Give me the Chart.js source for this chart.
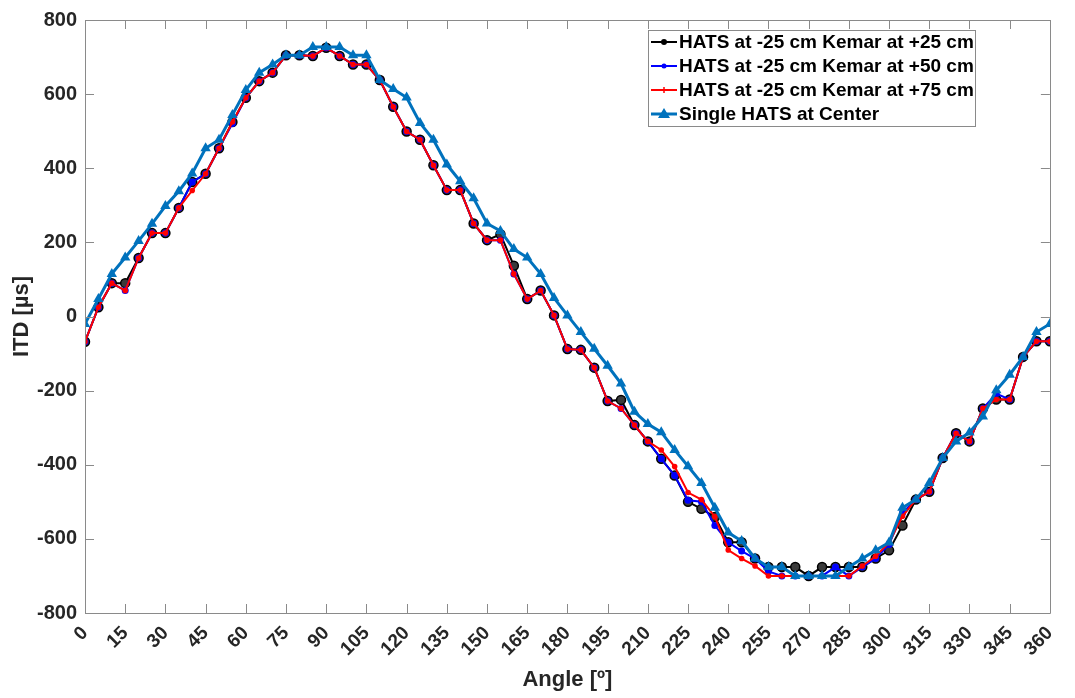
<!DOCTYPE html>
<html><head><meta charset="utf-8">
<script src="https://cdn.jsdelivr.net/npm/chart.js@4.4.1/dist/chart.umd.min.js"></script>
<style>html,body{margin:0;padding:0;background:#fff;overflow:hidden}canvas{display:block}</style>
</head><body>
<canvas id="c" width="1075" height="698"></canvas>
<script>
const angles = [0,5,10,15,20,25,30,35,40,45,50,55,60,65,70,75,80,85,90,95,100,105,110,115,120,125,130,135,140,145,150,155,160,165,170,175,180,185,190,195,200,205,210,215,220,225,230,235,240,245,250,255,260,265,270,275,280,285,290,295,300,305,310,315,320,325,330,335,340,345,350,355,360];
const xTicks = [0,15,30,45,60,75,90,105,120,135,150,165,180,195,210,225,240,255,270,285,300,315,330,345,360];
const yTicks = [-800,-600,-400,-200,0,200,400,600,800];

const hatsKemar25 = [-68,25,90,90,158,225,225,293,363,385,454,525,590,635,658,705,705,703,725,703,680,680,638,566,499,477,408,341,341,251,206,222,137,47,70,3,-88,-90,-138,-228,-225,-293,-337,-384,-429,-500,-519,-541,-609,-609,-653,-676,-676,-676,-700,-676,-676,-676,-676,-653,-631,-564,-494,-473,-382,-315,-337,-248,-224,-224,-109,-67,-67];
const hatsKemar50 = [-68,25,90,70,158,225,225,293,363,385,454,521,590,635,658,705,705,703,725,703,680,680,638,566,499,477,408,341,341,251,206,206,115,47,70,3,-88,-90,-138,-228,-248,-293,-337,-384,-429,-496,-500,-564,-609,-633,-653,-688,-700,-700,-700,-700,-676,-700,-676,-653,-615,-530,-494,-473,-382,-315,-337,-248,-208,-224,-109,-67,-67];
const hatsKemar75 = [-68,25,90,70,158,225,225,293,340,385,454,525,590,635,658,705,705,703,725,703,680,680,638,566,499,477,408,341,341,251,206,206,115,47,70,3,-88,-90,-138,-228,-248,-293,-337,-360,-405,-475,-494,-540,-630,-653,-673,-700,-700,-700,-700,-700,-700,-700,-673,-647,-610,-539,-494,-473,-382,-315,-337,-248,-224,-224,-109,-67,-67];
const singleHats = [-20,47,115,159,204,250,298,338,386,454,477,544,611,658,680,705,705,727,727,727,705,705,638,614,591,522,477,410,365,319,251,231,182,159,115,50,3,-42,-87,-133,-181,-257,-290,-312,-360,-404,-449,-516,-583,-606,-653,-676,-676,-700,-700,-700,-700,-676,-653,-631,-610,-516,-494,-449,-382,-337,-313,-270,-199,-157,-109,-42,-20];

const labels = ['HATS at -25 cm Kemar at +25 cm','HATS at -25 cm Kemar at +50 cm','HATS at -25 cm Kemar at +75 cm','Single HATS at Center'];
const FONT = "'Liberation Sans', Arial, Helvetica, sans-serif";
const TXT = '#262626';
const AXC = '#8a8a8a';

const pts = arr => angles.map((a,i)=>({x:a,y:arr[i]}));

const frame = {
  id:'frame',
  afterDatasetsDraw(chart){
    const {ctx, chartArea:ca, scales:{x,y}} = chart;
    ctx.save();
    ctx.strokeStyle = AXC; ctx.lineWidth = 1;
    ctx.beginPath();
    ctx.rect(Math.round(ca.left)+0.5, Math.round(ca.top)+0.5, Math.round(ca.right-ca.left), Math.round(ca.bottom-ca.top));
    ctx.stroke();
    const L = 9;
    ctx.beginPath();
    xTicks.forEach(v=>{
      const px = Math.round(x.getPixelForValue(v))+0.5;
      ctx.moveTo(px, ca.bottom); ctx.lineTo(px, ca.bottom-L);
      ctx.moveTo(px, ca.top); ctx.lineTo(px, ca.top+L);
    });
    yTicks.forEach(v=>{
      const py = Math.round(y.getPixelForValue(v))+0.5;
      ctx.moveTo(ca.left, py); ctx.lineTo(ca.left+L, py);
      ctx.moveTo(ca.right, py); ctx.lineTo(ca.right-L, py);
    });
    ctx.stroke();
    ctx.restore();
  },
  afterDraw(chart){
    const ctx = chart.ctx;
    const bx=648, by=30, bw=327, bh=96;
    ctx.save();
    ctx.fillStyle='#fff'; ctx.fillRect(bx,by,bw,bh);
    ctx.strokeStyle=AXC; ctx.lineWidth=1; ctx.strokeRect(bx+0.5,by+0.5,bw,bh);
    const rows=[42,66,90,114];
    const ds = chart.data.datasets;
    ds.forEach((d,i)=>{
      const yy=rows[i];
      ctx.strokeStyle=d.borderColor; ctx.lineWidth=d.borderWidth;
      ctx.beginPath(); ctx.moveTo(651,yy); ctx.lineTo(677,yy); ctx.stroke();
      const cx=664;
      if(i===0){ctx.fillStyle='#000';ctx.beginPath();ctx.arc(cx,yy,3,0,Math.PI*2);ctx.fill();}
      else if(i===1){ctx.fillStyle='#0000ff';ctx.beginPath();ctx.arc(cx,yy,2.5,0,Math.PI*2);ctx.fill();}
      else if(i===2){ctx.strokeStyle='#ff0000';ctx.lineWidth=1.5;ctx.beginPath();ctx.moveTo(cx,yy-3);ctx.lineTo(cx,yy+3);ctx.stroke();}
      else {ctx.fillStyle='#0072BD';ctx.beginPath();ctx.moveTo(cx,yy-6);ctx.lineTo(cx+6,yy+4);ctx.lineTo(cx-6,yy+4);ctx.closePath();ctx.fill();}
      ctx.fillStyle='#000'; ctx.font='bold 19px '+FONT; ctx.textBaseline='middle'; ctx.textAlign='left';
      ctx.fillText(d.label, 679, yy+1);
    });
    ctx.restore();
  }
};

new Chart(document.getElementById('c'), {
  type:'line',
  data:{datasets:[
    {label:labels[0], data:pts(hatsKemar25), borderColor:'#000000', backgroundColor:'#3a3a3a', borderWidth:2, pointStyle:'circle', pointRadius:4.5, pointBorderColor:'#000', pointBorderWidth:1.5, order:4},
    {label:labels[1], data:pts(hatsKemar50), borderColor:'#0000ff', backgroundColor:'#0000ff', borderWidth:2, pointStyle:'circle', pointRadius:3.5, pointBorderWidth:0, order:3},
    {label:labels[2], data:pts(hatsKemar75), borderColor:'#ff0000', backgroundColor:'#ff0000', borderWidth:2, pointStyle:'circle', pointRadius:2.8, pointBorderWidth:0, order:2},
    {label:labels[3], data:pts(singleHats), borderColor:'#0072BD', backgroundColor:'#0072BD', borderWidth:3, pointStyle:'triangle', pointRadius:6, pointBorderWidth:0, order:1}
  ]},
  options:{
    responsive:false, animation:false, devicePixelRatio:1,
    layout:{padding:{left:0,top:19,right:20,bottom:0}},
    plugins:{legend:{display:false}, tooltip:{enabled:false}},
    elements:{line:{tension:0}},
    scales:{
      x:{type:'linear', min:0, max:360,
        afterFit(s){s.height=85;},
        afterBuildTicks(s){s.ticks = xTicks.map(v=>({value:v}));},
        grid:{display:false, drawTicks:false}, border:{display:false},
        ticks:{autoSkip:false, minRotation:45, maxRotation:45, padding:9, color:TXT, font:{family:FONT, size:19, weight:'bold'}},
        title:{display:true, text:'Angle [º]', color:TXT, font:{family:FONT, size:22, weight:'bold'}, padding:{top:0,bottom:5}}
      },
      y:{min:-800, max:800,
        afterFit(s){s.width=85;},
        afterBuildTicks(s){s.ticks = yTicks.map(v=>({value:v}));},
        grid:{display:false, drawTicks:false}, border:{display:false},
        ticks:{padding:8, color:TXT, font:{family:FONT, size:20, weight:'bold'}},
        title:{display:true, text:'ITD [µs]', color:TXT, font:{family:FONT, size:22, weight:'bold'}, padding:{top:9,bottom:0}}
      }
    }
  },
  plugins:[frame]
});
</script>
</body></html>
